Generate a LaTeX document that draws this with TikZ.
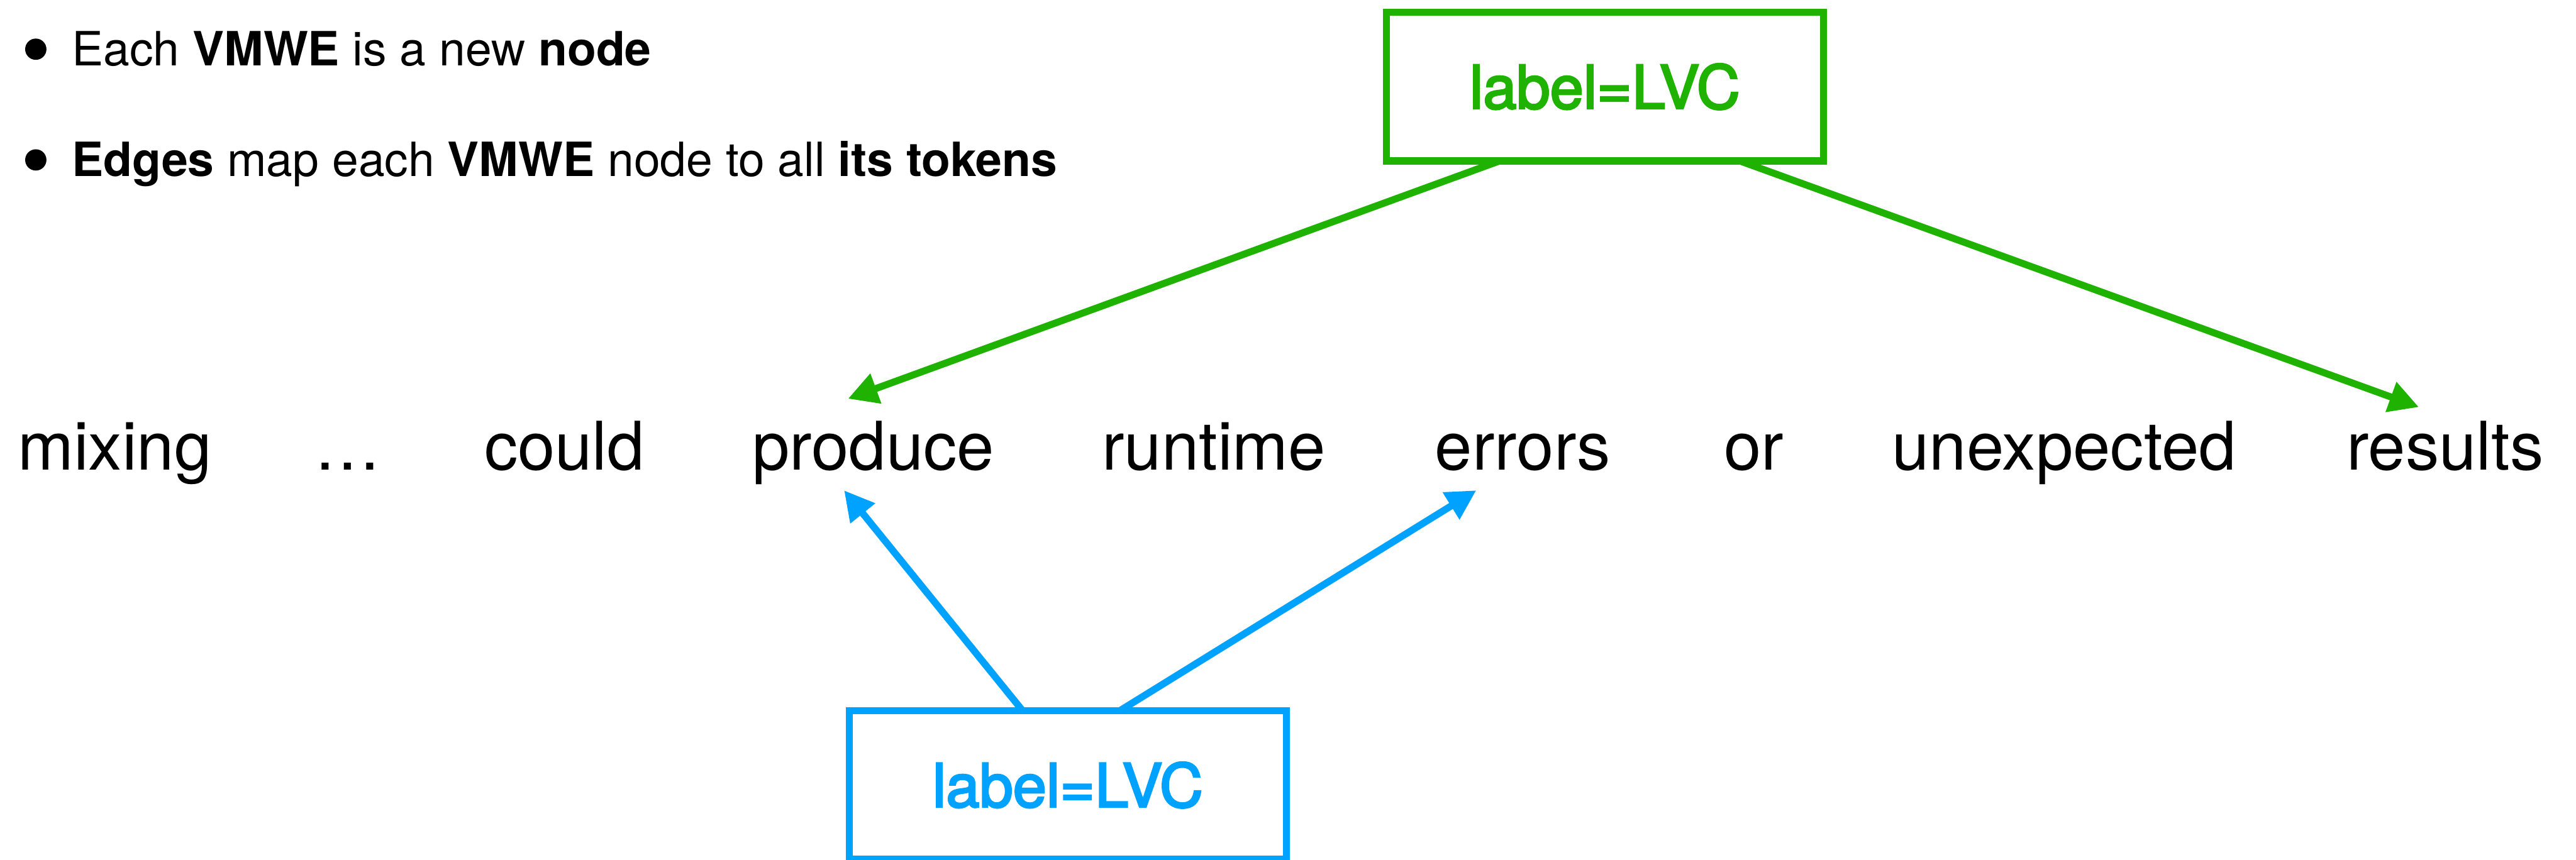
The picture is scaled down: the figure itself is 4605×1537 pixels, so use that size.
\documentclass[tikz,border=0pt]{standalone}
\usepackage{fontspec}
\setmainfont{TeX Gyre Heros}
\newfontfamily\medfont[FakeBold=3]{TeX Gyre Heros}
\usetikzlibrary{arrows.meta}
\definecolor{vgreen}{RGB}{31,178,0}
\definecolor{vblue}{RGB}{0,162,255}
\begin{document}
\begin{tikzpicture}[x=0.01cm, y=-0.01cm,
  tok/.style={anchor=base, inner sep=0, font=\fontsize{34.1}{40}\selectfont},
  vbox/.style={draw, line width=0.13cm, minimum width=7.81cm, minimum height=2.66cm,
    outer sep=0, inner sep=0, fill=white, font=\medfont\fontsize{30.6}{36}\selectfont},
  edgearrow/.style={line width=0.125cm, -{Triangle[length=0.53cm,width=0.54cm]}},
  bultext/.style={anchor=base west, inner sep=0, font=\fontsize{24}{29}\selectfont},
  buldot/.style={circle, fill=black, minimum size=0.38cm, inner sep=0}]
\path[use as bounding box, fill=white] (0,0) rectangle (4605,1537);

% bullets
\node[buldot] (b1) at (64,88) {};
\node[bultext] (l1) at (128,117) {Each \textbf{VMWE} is a new \textbf{node}};
\node[buldot] (b2) at (64,286) {};
\node[bultext] (l2) at (128,315) {\textbf{Edges} map each \textbf{VMWE} node to all \textbf{its tokens}};

% tokens
\node[tok] (mixing) at (205,840) {mixing};
\node[tok] (dots) at (622,840) {…};
\node[tok] (could) at (1009,840) {could};
\node[tok] (produce) at (1561,840) {produce};
\node[tok] (runtime) at (2170,840) {runtime};
\node[tok] (errors) at (2722,840) {errors};
\node[tok] (or) at (3135,840) {or};
\node[tok] (unexpected) at (3690,840) {unexpected};
\node[tok] (results) at (4371,840) {results};

% VMWE nodes
\node[vbox, draw=vgreen, text=vgreen] (green) at (2869,155) {label=LVC};
\node[vbox, draw=vblue, text=vblue] (blue) at (1909,1404) {label=LVC};

% edges
\draw[edgearrow, vgreen] ([shift={(-189,0)}]green.south) -- ([shift={(-45,-127)}]produce.base);
\draw[edgearrow, vgreen] ([shift={(242,0)}]green.south) -- ([shift={(-47,-112)}]results.base);
\draw[edgearrow, vblue] ([shift={(-81,0)}]blue.north) -- ([shift={(-52,37)}]produce.base);
\draw[edgearrow, vblue] ([shift={(93,0)}]blue.north) -- ([shift={(-83,37)}]errors.base);
\end{tikzpicture}
\end{document}
